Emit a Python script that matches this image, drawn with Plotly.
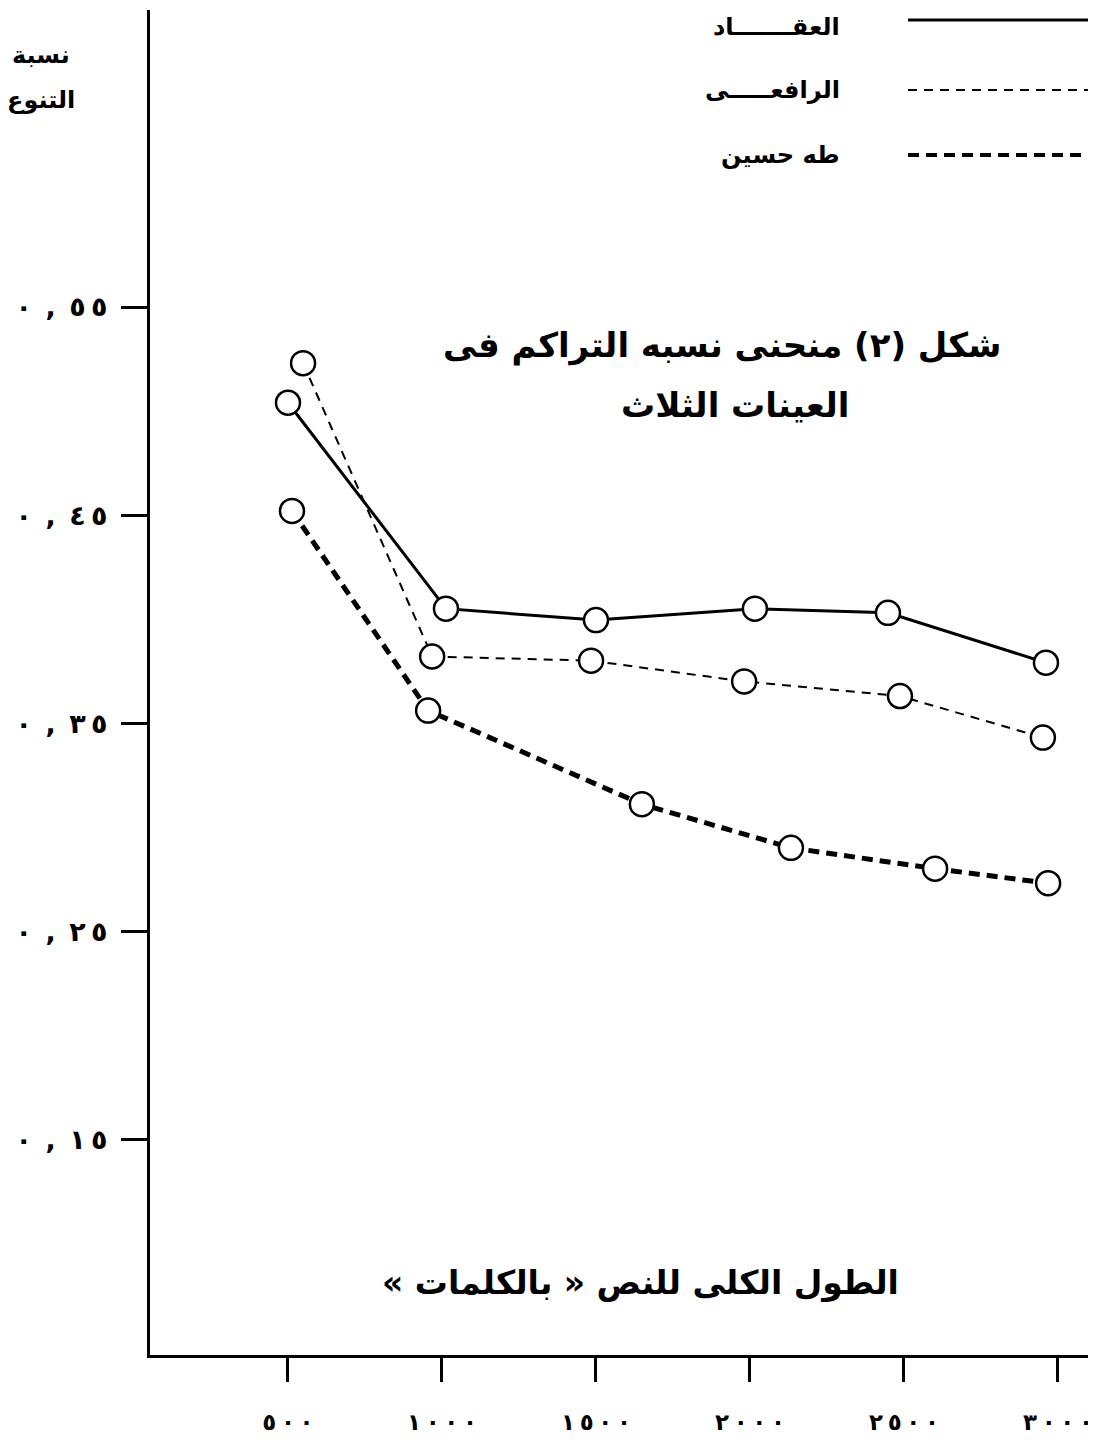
import plotly.graph_objects as go

# ---- data ----
series_names = ["العقـــــــاد", "الرافعـــــى", "طه حسين"]

aqqad_x = [500, 1013, 1500, 2016, 2448, 2961]
aqqad_y = [0.504, 0.405, 0.3995, 0.405, 0.403, 0.379]

rafii_x = [549, 968, 1484, 1981, 2487, 2951]
rafii_y = [0.523, 0.382, 0.380, 0.370, 0.363, 0.343]

taha_x = [513, 955, 1649, 2133, 2601, 2968]
taha_y = [0.452, 0.356, 0.311, 0.290, 0.280, 0.273]

x_tickvals = [500, 1000, 1500, 2000, 2500, 3000]
x_ticktext = ["٥٠٠", "١٠٠٠", "١٥٠٠", "٢٠٠٠", "٢٥٠٠", "٣٠٠٠"]
y_tickvals = [0.15, 0.25, 0.35, 0.45, 0.55]
y_ticktext = ["٠,١٥", "٠,٢٥", "٠,٣٥", "٠,٤٥", "٠,٥٥"]

title_lines = ["شكل (٢) منحنى نسبه التراكم فى", "العينات الثلاث"]
y_title_lines = ["نسبة", "التنوع"]
x_title = "الطول الكلى للنص « بالكلمات »"

RLM = "\u200f"
LRM = "\u200e"
FONT = "DejaVu Sans"

styles = [
    dict(width=3, dash="solid"),
    dict(width=2, dash="9px,7px"),
    dict(width=5, dash="11px,7px"),
]


def spaced_ltr(label, gap, comma_gap):
    """Space out the characters of a tick label, keeping left-to-right order."""
    out = LRM
    for i, ch in enumerate(label):
        if i > 0:
            g = comma_gap if (ch == "," or label[i - 1] == ",") else gap
            out += LRM + g + LRM
        out += ch
    return out + LRM


y_ticktext_disp = [spaced_ltr(t, "\u2009", "\u2002") for t in y_ticktext]
x_ticktext_disp = [spaced_ltr(t, "\u2009", "\u2009") for t in x_ticktext]

fig = go.Figure()
for xs, ys, st in zip([aqqad_x, rafii_x, taha_x], [aqqad_y, rafii_y, taha_y], styles):
    fig.add_trace(go.Scatter(
        x=xs, y=ys, mode="lines+markers",
        line=dict(color="black", width=st["width"], dash=st["dash"]),
        marker=dict(symbol="circle", size=24, color="white",
                    line=dict(color="black", width=2.5)),
        showlegend=False,
    ))

# page body has an 8px margin, so the figure is shifted by 8px right/down
fig.update_layout(
    width=1096, height=1450,
    margin=dict(l=142, r=14, t=2, b=103),
    paper_bgcolor="white", plot_bgcolor="white",
    font=dict(family=FONT, color="black"),
)
fig.update_xaxes(
    range=[52, 3104], tickvals=x_tickvals, ticktext=x_ticktext_disp,
    showline=True, linecolor="black", linewidth=3,
    ticks="outside", ticklen=24, tickwidth=3, tickcolor="black",
    showgrid=False, zeroline=False, automargin=False,
    tickfont=dict(family=FONT, size=23, color="black", weight="bold"),
    ticklabelstandoff=20,
)
fig.update_yaxes(
    range=[0.0462, 0.6928], tickvals=y_tickvals, ticktext=y_ticktext_disp,
    showline=True, linecolor="black", linewidth=3,
    ticks="outside", ticklen=26, tickwidth=3, tickcolor="black",
    showgrid=False, zeroline=False, automargin=False,
    tickfont=dict(family=FONT, size=27, color="black", weight="bold"),
    ticklabelstandoff=8,
)


def px_x(p):
    return (p - 150) / 940.0


def px_y(p):
    return (1355 - p) / 1345.0


# legend (drawn manually: text left, line sample right)
legend_rows = [20, 90, 155]
legend_text_rows = [27, 90, 155]
for name, st, row, trow in zip(series_names, styles, legend_rows, legend_text_rows):
    fig.add_shape(type="line", xref="paper", yref="paper",
                  x0=px_x(908), x1=px_x(1096), y0=px_y(row), y1=px_y(row),
                  line=dict(color="black", width=st["width"] if st["width"] < 4 else 4,
                            dash=st["dash"]))
    fig.add_annotation(xref="paper", yref="paper", x=px_x(842), y=px_y(trow),
                       xanchor="right", yanchor="middle", showarrow=False,
                       text=RLM + name + RLM,
                       font=dict(family=FONT, size=24, color="black", weight="bold"))

# figure caption inside the plot
for line, cx, cy in zip(title_lines, [722, 735], [345, 405]):
    fig.add_annotation(xref="paper", yref="paper", x=px_x(cx), y=px_y(cy),
                       xanchor="center", yanchor="middle", showarrow=False,
                       text=RLM + line + RLM,
                       font=dict(family=FONT, size=34, color="black", weight="bold"))

# y-axis title (two lines, top left)
for line, cy in zip(y_title_lines, [55, 100]):
    fig.add_annotation(xref="paper", yref="paper", x=px_x(41), y=px_y(cy),
                       xanchor="center", yanchor="middle", showarrow=False,
                       text=RLM + line + RLM,
                       font=dict(family=FONT, size=24, color="black", weight="bold"))

# x-axis title
fig.add_annotation(xref="paper", yref="paper", x=px_x(640), y=px_y(1283),
                   xanchor="center", yanchor="middle", showarrow=False,
                   text=RLM + x_title + RLM,
                   font=dict(family=FONT, size=33, color="black", weight="bold"))

fig.write_html("out.html")
